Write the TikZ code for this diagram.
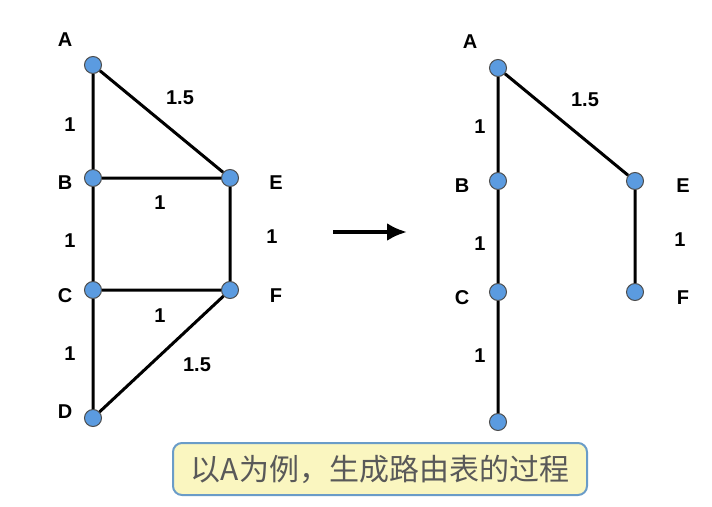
\documentclass[tikz,border=0pt]{standalone}
\usepackage{fontspec}
\usetikzlibrary{arrows.meta}
\setmainfont{Liberation Sans}
\newfontfamily\cjk{Noto Sans CJK SC}
\definecolor{nodeblue}{HTML}{5B9BE0}
\definecolor{capfill}{HTML}{FAF6C0}
\definecolor{capedge}{HTML}{6A9CC8}
\begin{document}
\begin{tikzpicture}[x=1pt,y=-1pt,
  vtx/.style={circle,fill=nodeblue,draw=black!70,line width=1pt,minimum size=17pt,inner sep=0pt},
  edge/.style={line width=3pt,black},
  lab/.style={font=\bfseries\fontsize{20}{22}\selectfont}]
\useasboundingbox (0,0) rectangle (712,506);
% left graph
\node[vtx] (A) at (93,65) {};
\node[vtx] (B) at (93,178) {};
\node[vtx] (E) at (230,178) {};
\node[vtx] (C) at (93,290) {};
\node[vtx] (F) at (230,290) {};
\node[vtx] (D) at (93,418) {};
\draw[edge] (A) -- (B) (A) -- (E) (B) -- (E) (B) -- (C) (E) -- (F) (C) -- (F) (C) -- (D) (F) -- (D);
\node[lab] (lA) at (65,40) {A};
\node[lab] (lB) at (65,183) {B};
\node[lab] (lC) at (65,296) {C};
\node[lab] (lD) at (65,412) {D};
\node[lab] (lE) at (276,183) {E};
\node[lab] (lF) at (276,296) {F};
\node[lab] (w1) at (180,98) {1.5};
\node[lab] (w2) at (70,125) {1};
\node[lab] (w3) at (160,203) {1};
\node[lab] (w4) at (70,241) {1};
\node[lab] (w5) at (272,237) {1};
\node[lab] (w6) at (160,316) {1};
\node[lab] (w7) at (70,354) {1};
\node[lab] (w8) at (197,365) {1.5};
% arrow
\coordinate (ar1) at (333,232);
\coordinate (ar2) at (407,232);
\draw[line width=4pt,-{Latex[length=20pt,width=18pt]}] (ar1) -- (ar2);
% right tree
\node[vtx] (RA) at (498,68) {};
\node[vtx] (RB) at (498,181) {};
\node[vtx] (RC) at (498,292) {};
\node[vtx] (RD) at (498,422) {};
\node[vtx] (RE) at (635,181) {};
\node[vtx] (RF) at (635,292) {};
\draw[edge] (RA) -- (RB) (RB) -- (RC) (RC) -- (RD) (RA) -- (RE) (RE) -- (RF);
\node[lab] (rlA) at (470,42) {A};
\node[lab] (rlB) at (462,186) {B};
\node[lab] (rlC) at (462,298) {C};
\node[lab] (rlE) at (683,186) {E};
\node[lab] (rlF) at (683,298) {F};
\node[lab] (rw1) at (585,100) {1.5};
\node[lab] (rw2) at (480,127) {1};
\node[lab] (rw3) at (480,244) {1};
\node[lab] (rw4) at (680,240) {1};
\node[lab] (rw5) at (480,356) {1};
% caption
\node[draw=capedge,fill=capfill,line width=2pt,rounded corners=9pt,
  minimum width=414pt,minimum height=52pt,text=black!65,
  font=\cjk\fontsize{30}{34}\selectfont] (cap) at (380,469) {以A为例，生成路由表的过程};
\end{tikzpicture}
\end{document}
